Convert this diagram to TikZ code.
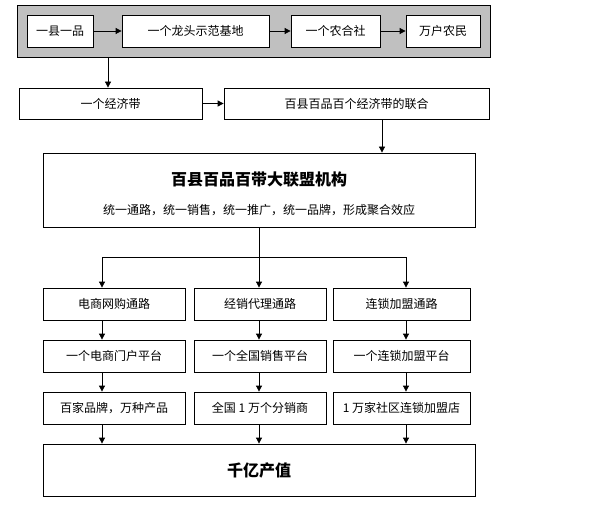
\documentclass[tikz,border=0pt]{standalone}
\usepackage{fontspec}
\setmainfont{Noto Sans CJK SC}
\usetikzlibrary{arrows.meta}
\definecolor{band}{RGB}{192, 192, 192}
\tikzset{
	box/.style={rectangle, draw=black, fill=white, line width=0.8pt, inner sep=0pt, minimum height=32pt, font=\fontsize{12}{14}\selectfont},
	arr/.style={line width=0.8pt, -{Triangle[length=6pt,width=6pt]}},
	ln/.style={line width=0.8pt}
}
\begin{document}
\begin{tikzpicture}
			[x=1pt, y=-1pt]
			\useasboundingbox (0, 0) rectangle (596, 505);
			% top grey band
			\node (band) [rectangle, draw=black, fill=band, line width=0.8pt, minimum width=473pt, minimum height=52pt] at (253.5, 31) {};
			\node (yxyp) [box, minimum width=66pt] at (60, 31) {一县一品};
			\node (ltjd) [box, minimum width=147pt] at (195.5, 31) {一个龙头示范基地};
			\node (nhs) [box, minimum width=89pt] at (335.5, 31) {一个农合社};
			\node (whnm) [box, minimum width=74pt] at (443, 31) {万户农民};
			\draw [arr] (yxyp) to (ltjd);
			\draw [arr] (ltjd) to (nhs);
			\draw [arr] (nhs) to (whnm);
			% second row
			\node (jjd) [box, minimum width=183pt, minimum height=31pt] at (110.5, 103.5) {一个经济带};
			\node (lh) [box, minimum width=265pt, minimum height=31pt] at (356.5, 103.5) {百县百品百个经济带的联合};
			\draw [arr] ([xshift=-2.5pt]jjd.north |- band.south) to ([xshift=-2.5pt]jjd.north);
			\draw [arr] (jjd) to (lh);
			% alliance
			\node (dlm) [box, minimum width=432pt, minimum height=74pt] at (259, 190) {};
			\node (dlmt) [font=\fontsize{16}{18}\selectfont\bfseries] at (259, 180) {百县百品百带大联盟机构};
			\node (dlms) [font=\fontsize{12}{14}\selectfont] at (259, 210) {统一通路，统一销售，统一推广，统一品牌，形成聚合效应};
			\draw [arr] ([xshift=25.5pt]lh.south) to ([xshift=25.5pt]lh.south |- dlm.north);
			% three channels
			\coordinate (a1) at (102, 257);
			\coordinate (a2) at (259, 257);
			\coordinate (a3) at (406, 257);
			\node (ds1) [box, minimum width=142pt] at (114, 304) {电商网购通路};
			\node (jx1) [box, minimum width=132pt] at (260, 304) {经销代理通路};
			\node (ls1) [box, minimum width=137pt] at (401.5, 304) {连锁加盟通路};
			\node (ds2) [box, minimum width=142pt] at (114, 356) {一个电商门户平台};
			\node (jx2) [box, minimum width=132pt] at (260, 356) {一个全国销售平台};
			\node (ls2) [box, minimum width=137pt] at (401.5, 356) {一个连锁加盟平台};
			\node (ds3) [box, minimum width=142pt] at (114, 408) {百家品牌，万种产品};
			\node (jx3) [box, minimum width=132pt] at (260, 408) {全国 1 万个分销商};
			\node (ls3) [box, minimum width=137pt] at (401.5, 408) {1 万家社区连锁加盟店};
			\node (qy) [box, minimum width=432pt, minimum height=52pt, font=\fontsize{16}{18}\selectfont\bfseries] at (259, 470) {千亿产值};
			\draw [ln] (dlm.south) to (a2);
			\draw [ln] (a1) to (a3);
			\draw [arr] (a1) to (a1 |- ds1.north);
			\draw [arr] (a2) to (a2 |- jx1.north);
			\draw [arr] (a3) to (a3 |- ls1.north);
			\draw [arr] (a1 |- ds1.south) to (a1 |- ds2.north);
			\draw [arr] (a2 |- jx1.south) to (a2 |- jx2.north);
			\draw [arr] (a3 |- ls1.south) to (a3 |- ls2.north);
			\draw [arr] (a1 |- ds2.south) to (a1 |- ds3.north);
			\draw [arr] (a2 |- jx2.south) to (a2 |- jx3.north);
			\draw [arr] (a3 |- ls2.south) to (a3 |- ls3.north);
			\draw [arr] (a1 |- ds3.south) to (a1 |- qy.north);
			\draw [arr] (a2 |- jx3.south) to (a2 |- qy.north);
			\draw [arr] (a3 |- ls3.south) to (a3 |- qy.north);
	\end{tikzpicture}
\end{document}
